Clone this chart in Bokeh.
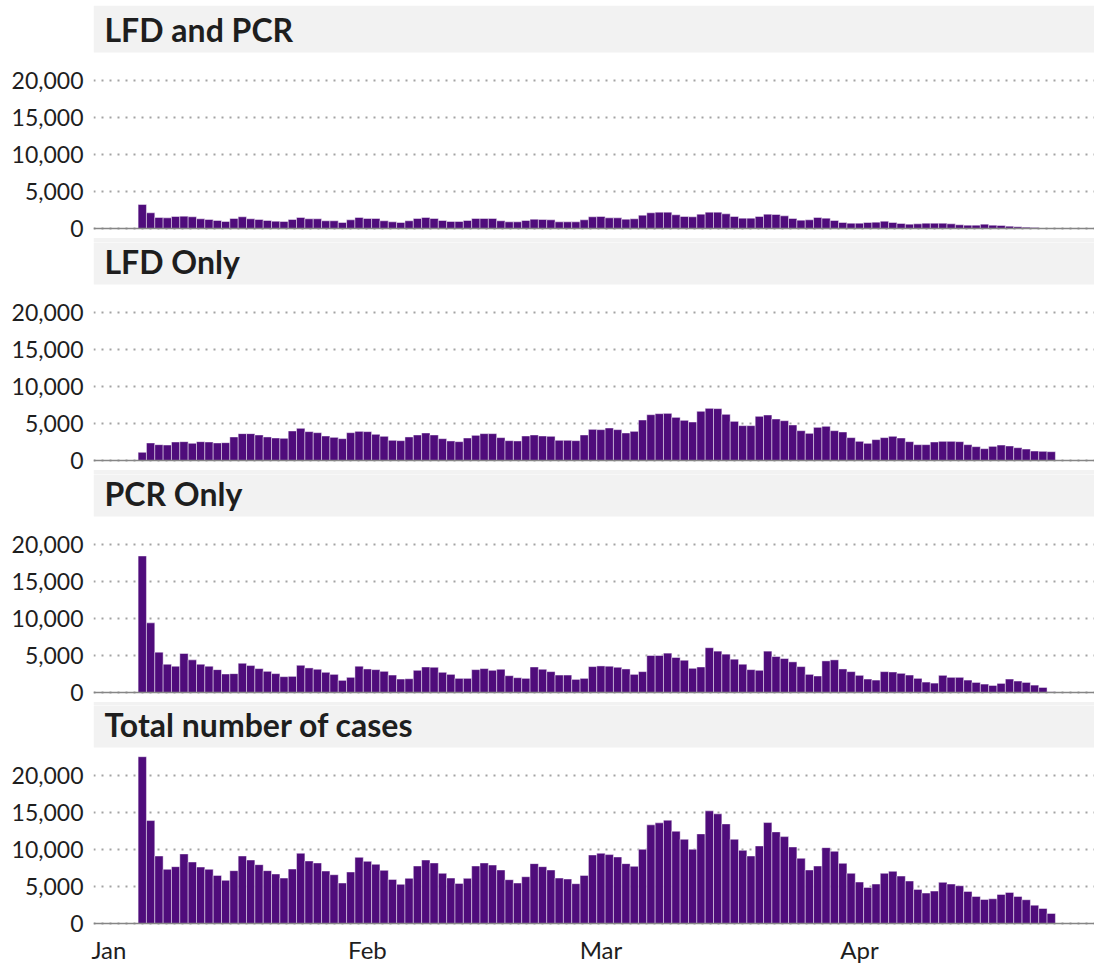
import pandas as pd
from bokeh.plotting import figure
from bokeh.layouts import column
from bokeh.models import (Range1d, FixedTicker, NumeralTickFormatter, Span,
                          BoxAnnotation, Label, ColumnDataSource)
from bokeh.embed import file_html
from bokeh.resources import INLINE

# ---------------- data ----------------
start_date = "2022-01-05"
n_days = 110
dates = pd.date_range(start_date, periods=n_days)
day_offset = list((dates - pd.Timestamp("2022-01-01")).days)

month_ticks = [0, 31, 59, 90]
month_labels = ["Jan", "Feb", "Mar", "Apr"]
y_ticks = [0, 5000, 10000, 15000, 20000]

panel_titles = ["LFD and PCR", "LFD Only", "PCR Only", "Total number of cases"]

lfd_and_pcr = [
    3240, 2120, 1490, 1440, 1620, 1670, 1580, 1310, 1220, 1080,
    950, 1350, 1580, 1310, 1220, 1080, 990, 950, 1220, 1490,
    1310, 1310, 1040, 1040, 810, 1170, 1490, 1350, 1350, 1040,
    900, 810, 1040, 1350, 1490, 1350, 1080, 950, 950, 1080,
    1350, 1350, 1350, 1040, 900, 900, 1080, 1260, 1220, 1170,
    900, 900, 900, 1170, 1580, 1620, 1440, 1440, 1260, 1310,
    1800, 2120, 2210, 2210, 1850, 1620, 1580, 1940, 2210, 2210,
    1980, 1620, 1400, 1400, 1620, 1940, 1890, 1710, 1350, 1130,
    1170, 1490, 1400, 1080, 810, 720, 720, 810, 860, 990,
    810, 680, 590, 630, 720, 720, 720, 630, 500, 450,
    450, 590, 450, 410, 320, 230, 180, 120, 60, 20,
]

lfd_only = [
    1100, 2370, 2140, 2090, 2500, 2545, 2320, 2545, 2500, 2370,
    2410, 3180, 3630, 3630, 3450, 3180, 3040, 3000, 3990, 4350,
    3900, 3760, 3310, 3130, 2950, 3760, 3940, 3900, 3540, 3270,
    2730, 2680, 3180, 3450, 3720, 3450, 2950, 2640, 2545, 3040,
    3400, 3630, 3630, 3090, 2680, 2640, 3310, 3450, 3310, 3270,
    2730, 2730, 2680, 3450, 4210, 4170, 4390, 4170, 3720, 3940,
    5470, 6190, 6330, 6370, 5830, 5430, 5200, 6650, 7050, 7010,
    6240, 5290, 4710, 4710, 5970, 6150, 5610, 5380, 4800, 4030,
    3670, 4480, 4620, 4030, 3850, 3090, 2590, 2320, 2820, 3090,
    3270, 3040, 2545, 2140, 2140, 2500, 2590, 2590, 2545, 2140,
    1870, 1600, 1910, 2090, 1960, 1730, 1550, 1280, 1240, 1190,
]

pcr_only = [
    18450, 9410, 5450, 3820, 3550, 5270, 4410, 3820, 3550, 3090,
    2500, 2550, 3950, 3640, 3230, 2860, 2550, 2140, 2180, 3680,
    3320, 3140, 2730, 2450, 1640, 2050, 3550, 3180, 3090, 2860,
    2360, 1820, 1860, 3000, 3450, 3410, 2730, 2450, 1910, 1910,
    3090, 3230, 3000, 3140, 2270, 2000, 1910, 3450, 3140, 2820,
    2360, 2360, 1770, 1910, 3500, 3590, 3550, 3410, 3180, 2450,
    2820, 5000, 5000, 5320, 4730, 4360, 3270, 3450, 6050, 5590,
    5180, 4500, 3820, 3090, 3000, 5590, 4860, 4590, 4140, 3500,
    2450, 2230, 4270, 4410, 3180, 2820, 2320, 1820, 1680, 2820,
    2770, 2590, 2360, 1910, 1410, 1270, 2320, 2050, 2050, 1680,
    1360, 1140, 950, 1230, 1820, 1550, 1360, 1000, 680, 90,
]

total_cases = [
    22540, 13910, 9120, 7320, 7680, 9400, 8310, 7630, 7320, 6500,
    5830, 7140, 9120, 8580, 7950, 7140, 6690, 6140, 7360, 9490,
    8450, 8180, 7090, 6590, 5470, 6960, 8940, 8400, 8000, 7180,
    5960, 5290, 6100, 7770, 8580, 8180, 6780, 6140, 5420, 6100,
    7770, 8180, 7900, 7230, 5920, 5470, 6320, 8090, 7680, 7230,
    6140, 6010, 5380, 6500, 9260, 9490, 9310, 8990, 8090, 7720,
    10030, 13330, 13600, 13960, 12470, 11380, 10030, 12110, 15220, 14820,
    13460, 11380, 9890, 9120, 10480, 13640, 12380, 11740, 10340, 8810,
    7230, 7770, 10250, 9760, 8130, 6780, 5600, 4880, 5330, 6780,
    7050, 6410, 5740, 4610, 4110, 4380, 5560, 5330, 5100, 4340,
    3660, 3250, 3340, 3930, 4200, 3660, 3210, 2480, 2030, 1360,
]

series = [lfd_and_pcr, lfd_only, pcr_only, total_cases]

# ---------------- styling / layout ----------------
FONT = "Lato"
BAR_COLOR = "#4f0c7b"
STRIP_COLOR = "#f2f2f2"
TEXT_COLOR = "#1e1e1e"

K = 148 / 20000.0          # pixels per case (148 px for 20,000)
STRIP_H = 47               # full height of each title strip
GAP = 28                   # strip bottom -> 20,000 gridline
PLOT_H = 148               # 20,000 -> 0
STRIP_BOTTOM = (PLOT_H + GAP) / K
STRIP_MID = (PLOT_H + GAP + STRIP_H / 2) / K
NEXT_STRIP_TOP = -9.5 / K  # next panel's strip starts just below baseline
OVERSHOOT = 20 / K         # push strip edges past the canvas edge (no seams)

# per-panel: (top border, px above baseline in frame, px below baseline, axis px)
panel_geom = [
    (5, PLOT_H + GAP + STRIP_H, 14, 0),
    (0, PLOT_H + GAP + STRIP_H - 5, 14, 0),
    (0, PLOT_H + GAP + STRIP_H - 5, 13, 0),
    (0, PLOT_H + GAP + STRIP_H - 5, 5, 34),
]

FIG_W = 1094
FRAME_LEFT = 93
FRAME_W = FIG_W - FRAME_LEFT
PX_PER_DAY = 8.339
x_start = -1.85
x_end = x_start + FRAME_W / PX_PER_DAY
x_range = Range1d(x_start, x_end)


def style_axis(ax, size):
    ax.axis_line_color = None
    ax.major_tick_line_color = None
    ax.minor_tick_line_color = None
    ax.major_tick_out = 0
    ax.major_tick_in = 0
    ax.minor_tick_out = 0
    ax.minor_tick_in = 0
    ax.major_label_text_font = FONT
    ax.major_label_text_font_size = size
    ax.major_label_text_color = TEXT_COLOR


def make_panel(idx, title, vals):
    top_b, above, below, axis_px = panel_geom[idx]
    last = idx == 3
    y_start = -below / K
    y_end = above / K
    p = figure(frame_width=FRAME_W, frame_height=above + below,
               x_range=x_range, y_range=Range1d(y_start, y_end),
               output_backend="svg", toolbar_location=None,
               x_axis_location=("below" if last else None),
               min_border_left=FRAME_LEFT, min_border_right=0,
               min_border_top=top_b, min_border_bottom=axis_px)
    p.outline_line_color = None
    p.background_fill_color = "white"
    p.border_fill_color = "white"
    p.xgrid.visible = False

    p.ygrid.ticker = FixedTicker(ticks=y_ticks)
    p.ygrid.grid_line_color = "#a3a3a3"
    p.ygrid.grid_line_width = 2
    p.ygrid.grid_line_dash = "2 6"

    ya = p.yaxis[0]
    ya.ticker = FixedTicker(ticks=y_ticks)
    ya.formatter = NumeralTickFormatter(format="0,0")
    ya.major_label_standoff = 10
    style_axis(ya, "23px")

    if last:
        xa = p.xaxis[0]
        xa.ticker = FixedTicker(ticks=month_ticks)
        xa.major_label_overrides = {t: lab for t, lab in zip(month_ticks, month_labels)}
        xa.major_label_standoff = 6
        style_axis(xa, "24px")

    # this panel's title strip (top of frame)
    strip_top = y_end if top_b > 0 else y_end + OVERSHOOT
    p.add_layout(BoxAnnotation(left=x_start, right=x_end + 5, bottom=STRIP_BOTTOM,
                               top=strip_top, fill_color=STRIP_COLOR, fill_alpha=1.0,
                               line_color=None, level="underlay"))
    # first pixels of the next panel's strip (bottom of frame)
    if not last:
        p.add_layout(BoxAnnotation(left=x_start, right=x_end + 5,
                                   bottom=y_start - OVERSHOOT,
                                   top=NEXT_STRIP_TOP, fill_color=STRIP_COLOR,
                                   fill_alpha=1.0, line_color=None,
                                   level="underlay"))

    src = ColumnDataSource(dict(x=day_offset, top=vals))
    p.vbar(x="x", top="top", bottom=0, width=1.0, source=src,
           fill_color=BAR_COLOR, line_color="white", line_alpha=0.45,
           line_width=1)

    p.add_layout(Span(location=0, dimension="width", line_color="#868686",
                      line_width=1.5))

    p.add_layout(Label(x=x_start, y=STRIP_MID, x_offset=11, text=title,
                       text_font=FONT, text_font_style="bold",
                       text_font_size="32px", text_color=TEXT_COLOR,
                       text_baseline="middle", text_align="left"))
    return p


panels = [make_panel(i, t, v) for i, (t, v) in enumerate(zip(panel_titles, series))]
layout = column(*panels, spacing=0)

open("out.html", "w").write(file_html(layout, INLINE))
